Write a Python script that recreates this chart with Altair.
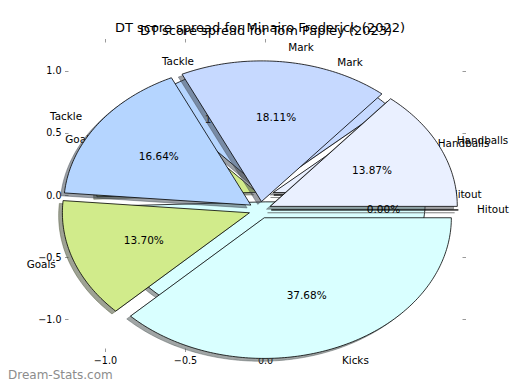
import altair as alt
import numpy as np
import pandas as pd

# ---------------- data ----------------
categories = ["Handballs", "Mark", "Tackle", "Goals", "Kicks", "Hitout"]
tom_papley_2023 = [13.87, 18.11, 16.64, 13.70, 37.68, 0.00]
minairo_frederick_2022 = [11.56, 14.11, 11.22, 13.67, 49.44, 0.00]
slice_colors = ["#eaf0ff", "#c6d9ff", "#b5d5ff", "#d1eb8b", "#d9ffff", "#f0f0f0"]

title_back = "DT score spread for Minairo Frederick (2022)"
title_front = "DT score spread for Tom Papley (2023)"
watermark = "Dream-Stats.com"
x_tick_values = [-1.0, -0.5, 0.0]
y_tick_values = [-1.0, -0.5, 0.0, 0.5, 1.0]

# ---------------- pie geometry (style, data units) ----------------
BACK = dict(cx=0.0, cy=0.0, rx=1.0, ry=1.0, explode=0.055)
FRONT = dict(cx=-0.031, cy=-0.12, rx=1.169, ry=1.13, explode=0.06)
FONT = "DejaVu Sans"


def shade(hexcol):
    r, g, b = (int(hexcol[i:i + 2], 16) for i in (1, 3, 5))
    return "#%02x%02x%02x" % (int(0.3 * r), int(0.3 * g), int(0.3 * b))


def pie_tables(values, geo, pie):
    total = sum(values)
    poly, labels, pcts = [], [], []
    start = 0.0
    for i, (cat, val, col) in enumerate(zip(categories, values, slice_colors)):
        sweep = 360.0 * val / total
        t1, t2 = start, start + sweep
        start = t2
        mid = np.radians((t1 + t2) / 2)
        ox = geo["cx"] + geo["explode"] * geo["rx"] * np.cos(mid)
        oy = geo["cy"] + geo["explode"] * geo["ry"] * np.sin(mid)
        n = max(2, int(np.ceil(sweep)) + 1)
        angs = np.radians(np.linspace(t1, t2, n))
        pts = [(ox, oy)] + [(ox + geo["rx"] * np.cos(a), oy + geo["ry"] * np.sin(a)) for a in angs]
        for k, (px, py) in enumerate(pts):
            poly.append(dict(slice=f"{pie}-{i}", k=k, x=px, y=py,
                             sx=px - 0.02 * geo["rx"], sy=py - 0.02 * geo["ry"],
                             fill=col, shade=shade(col)))
        labels.append(dict(label=cat,
                           x=ox + 1.1 * geo["rx"] * np.cos(mid),
                           y=oy + 1.1 * geo["ry"] * np.sin(mid),
                           side="left" if np.cos(mid) > 0 else "right"))
        pcts.append(dict(label=f"{val:.2f}%",
                         x=ox + 0.6 * geo["rx"] * np.cos(mid),
                         y=oy + 0.6 * geo["ry"] * np.sin(mid)))
    return pd.DataFrame(poly), pd.DataFrame(labels), pd.DataFrame(pcts)


xscale = alt.Scale(domain=[-1.231, 1.231], nice=False, zero=False)
yscale = alt.Scale(domain=[-1.229, 1.229], nice=False, zero=False)

tick_style = dict(tickSize=3.5, tickColor="#9a9a9a", tickWidth=1, domain=False, grid=False,
                  title=None, labelFont=FONT, labelFontSize=9.6, labelColor="#000000",
                  labelPadding=3.5, labelOverlap=False, labelFlush=False)
axis_left = alt.Axis(orient="left", values=y_tick_values, format=".1f", **tick_style)
axis_bottom = alt.Axis(orient="bottom", values=x_tick_values, format=".1f", **tick_style)
axis_top = alt.Axis(orient="top", values=x_tick_values, labels=False, **tick_style)
axis_right = alt.Axis(orient="right", values=y_tick_values, labels=False, **tick_style)


def pie_layers(values, geo, pie, axes=None):
    poly, labels, pcts = pie_tables(values, geo, pie)
    ax_sh = dict(x=axes[0], y=axes[1]) if axes else dict(x=None, y=None)
    ax_w = dict(x=axes[2], y=axes[3]) if axes else dict(x=None, y=None)
    shadow = alt.Chart(poly).mark_line(
        interpolate="linear-closed", strokeWidth=0.8, fillOpacity=0.5, strokeOpacity=0.5
    ).encode(
        x=alt.X("sx:Q", scale=xscale, axis=ax_sh["x"]),
        y=alt.Y("sy:Q", scale=yscale, axis=ax_sh["y"]),
        detail="slice:N", order="k:Q",
        fill=alt.Fill("shade:N", scale=None),
        stroke=alt.Stroke("shade:N", scale=None),
    )
    wedges = alt.Chart(poly).mark_line(
        interpolate="linear-closed", stroke="#000000", strokeWidth=0.8
    ).encode(
        x=alt.X("x:Q", scale=xscale, axis=ax_w["x"]),
        y=alt.Y("y:Q", scale=yscale, axis=ax_w["y"]),
        detail="slice:N", order="k:Q",
        fill=alt.Fill("fill:N", scale=None),
    )
    layers = [shadow, wedges]
    for side in ("left", "right"):
        layers.append(
            alt.Chart(labels).transform_filter(alt.datum.side == side).mark_text(
                align=side, baseline="middle", font=FONT, fontSize=10.4, color="#000000"
            ).encode(
                x=alt.X("x:Q", scale=xscale, axis=None),
                y=alt.Y("y:Q", scale=yscale, axis=None),
                text="label:N",
            )
        )
    layers.append(
        alt.Chart(pcts).mark_text(
            align="center", baseline="middle", font=FONT, fontSize=10.5, color="#000000"
        ).encode(
            x=alt.X("x:Q", scale=xscale, axis=None),
            y=alt.Y("y:Q", scale=yscale, axis=None),
            text="label:N",
        )
    )
    return layers


back_layers = pie_layers(minairo_frederick_2022, BACK, "back",
                         axes=(axis_bottom, axis_left, axis_top, axis_right))
front_layers = pie_layers(tom_papley_2023, FRONT, "front")

titles = [
    alt.Chart(pd.DataFrame({"t": [title_back]})).mark_text(
        align="center", baseline="middle", font=FONT, fontSize=13, color="#000000"
    ).encode(text="t:N", x=alt.value(192), y=alt.value(-14.5)),
    alt.Chart(pd.DataFrame({"t": [title_front]})).mark_text(
        align="center", baseline="middle", font=FONT, fontSize=13, color="#000000"
    ).encode(text="t:N", x=alt.value(198), y=alt.value(-11)),
    alt.Chart(pd.DataFrame({"t": [watermark]})).mark_text(
        align="left", baseline="middle", font=FONT, fontSize=12, color="#8c8c8c"
    ).encode(text="t:N", x=alt.value(-60), y=alt.value(333)),
]

chart = alt.layer(*back_layers, *front_layers, *titles).resolve_axis(
    x="independent", y="independent"
).properties(
    width=394, height=306,
    autosize=alt.AutoSizeParams(type="none"),
    padding={"left": 60, "top": 34, "right": 50, "bottom": 34},
).configure_view(stroke=None)

chart.save("out.html", embed_options={"renderer": "svg", "actions": False})
